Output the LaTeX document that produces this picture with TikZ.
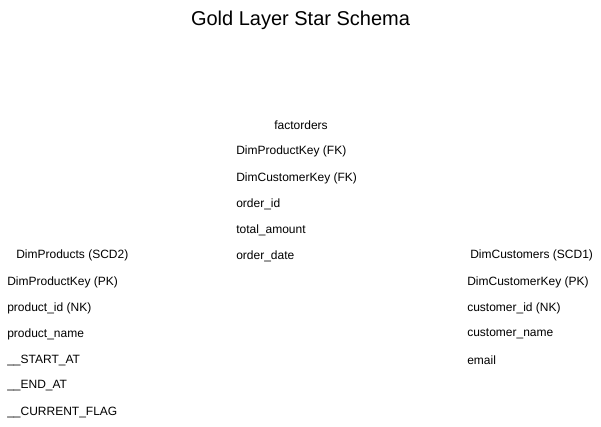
\documentclass[tikz,border=0pt]{standalone}
\usepackage{fontspec}
\setmainfont{Liberation Sans}
\usetikzlibrary{positioning}

\tikzset{
	field/.style={anchor=west, inner sep=0pt, font=\fontsize{9}{11}\selectfont},
	tabletitle/.style={inner sep=0pt, font=\fontsize{9}{11}\selectfont},
}

\begin{document}
\begin{tikzpicture}[x=0.75pt, y=-0.75pt]
	\useasboundingbox (0,0) rectangle (601,426);
	\node [inner sep=0pt, font=\fontsize{15}{18}\selectfont] (title) at (300.5,20.5) {Gold Layer Star Schema};
	% fact table
	\node [tabletitle] (fact) at (301,125) {factorders};
	\node [field] (fprodkey) at (236,151) {DimProductKey (FK)};
	\node [field] (fcustkey) at (236,178) {DimCustomerKey (FK)};
	\node [field] (forderid) at (236,204) {order\_id};
	\node [field] (famount) at (236,230) {total\_amount};
	\node [field] (fdate) at (236,256) {order\_date};
	% products dimension
	\node [field] (prod) at (16,255) {DimProducts (SCD2)};
	\node [field] (pkey) at (7,282) {DimProductKey (PK)};
	\node [field] (pid) at (7,308) {product\_id (NK)};
	\node [field] (pname) at (7,334) {product\_name};
	\node [field] (pstart) at (7,360) {\_\_START\_AT};
	\node [field] (pend) at (7,386) {\_\_END\_AT};
	\node [field] (pflag) at (7,412) {\_\_CURRENT\_FLAG};
	% customers dimension
	\node [field] (cust) at (470,255) {DimCustomers (SCD1)};
	\node [field] (ckey) at (467,282) {DimCustomerKey (PK)};
	\node [field] (cid) at (467,308) {customer\_id (NK)};
	\node [field] (cname) at (467,334) {customer\_name};
	\node [field] (cemail) at (467,360) {email};
\end{tikzpicture}
\end{document}
